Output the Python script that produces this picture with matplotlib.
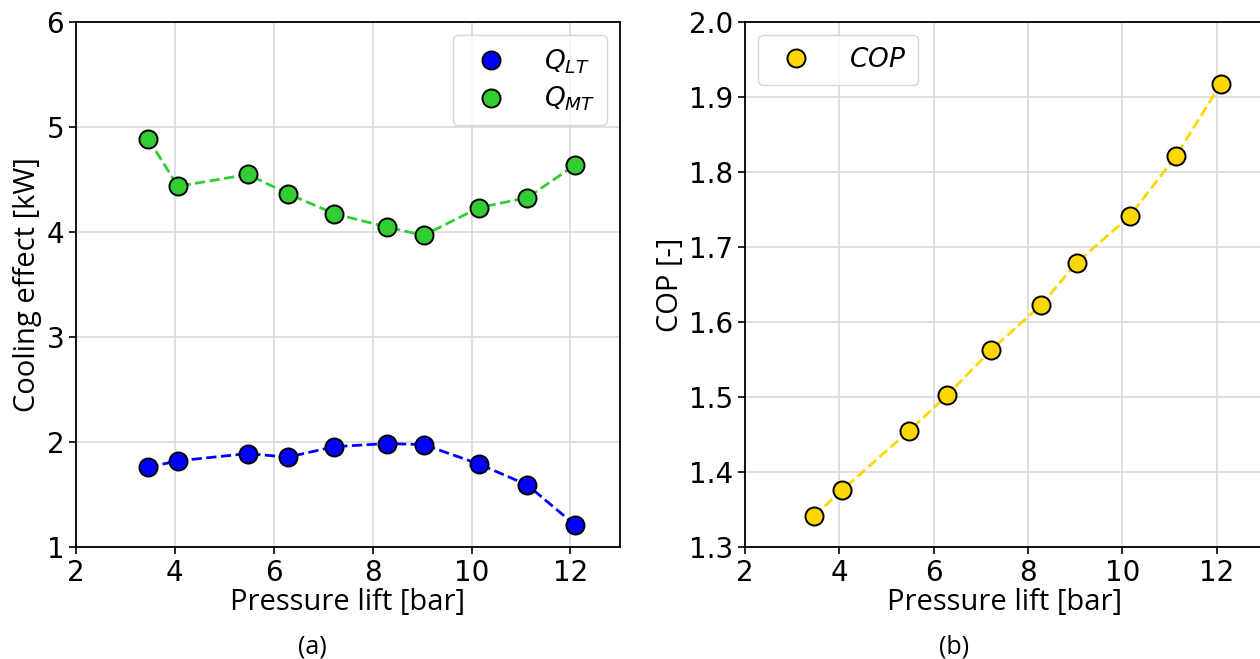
import numpy as np
import matplotlib
matplotlib.use("Agg")
import matplotlib.pyplot as plt

# pressure lift [bar]
lift = [3.46, 4.06, 5.48, 6.28, 7.22, 8.28, 9.03, 10.15, 11.13, 12.09]
# cooling effect [kW]
q_lt = [1.76, 1.82, 1.89, 1.855, 1.955, 1.985, 1.975, 1.79, 1.59, 1.21]
q_mt = [4.89, 4.435, 4.548, 4.366, 4.175, 4.048, 3.968, 4.232, 4.328, 4.637]
# COP [-]
cop = [1.341, 1.376, 1.455, 1.502, 1.563, 1.623, 1.679, 1.741, 1.821, 1.918]

label_font = "Open Sans"
mk = dict(marker="o", ls="none", ms=13, mec="black", mew=1.4)

fig = plt.figure(figsize=(12.6, 6.59), dpi=100)
ax1 = fig.add_axes([0.0603, 0.170, 0.4317, 0.7966])
ax2 = fig.add_axes([0.5913, 0.170, 0.4119, 0.7966])

# dashed lines first, markers on top (legend shows markers only)
ax1.plot(lift, q_lt, "--", color="blue", lw=2)
ax1.plot(lift, q_mt, "--", color="limegreen", lw=2)
ax1.plot(lift, q_lt, color="blue", label="$Q_{LT}$", **mk)
ax1.plot(lift, q_mt, color="limegreen", label="$Q_{MT}$", **mk)
ax1.set_xlim(2, 13)
ax1.set_ylim(1, 6)
ax1.set_xticks([2, 4, 6, 8, 10, 12])
ax1.set_yticks([1, 2, 3, 4, 5, 6])
ax1.set_xlabel("Pressure lift [bar]", fontsize=21, family=label_font, labelpad=1)
ax1.set_ylabel("Cooling effect [kW]", fontsize=21, family=label_font, labelpad=3)
ax1.legend(loc="upper right", fontsize=19, handletextpad=1.0, borderpad=0.45,
           labelspacing=0.35, handlelength=2.0)

ax2.plot(lift, cop, "--", color="gold", lw=2)
ax2.plot(lift, cop, color="gold", label="$COP$", **mk)
ax2.set_xlim(2, 13)
ax2.set_ylim(1.3, 2.0)
ax2.set_xticks([2, 4, 6, 8, 10, 12])
ax2.set_yticks(np.arange(1.3, 2.01, 0.1))
ax2.set_xlabel("Pressure lift [bar]", fontsize=21, family=label_font, labelpad=1)
ax2.set_ylabel("COP [-]", fontsize=21, family=label_font, labelpad=3)
ax2.legend(loc="upper left", fontsize=19, handletextpad=1.0, borderpad=0.45,
           handlelength=2.0)

for ax in (ax1, ax2):
    ax.grid(True, color="#d9d9d9", lw=1.2)
    ax.set_axisbelow(True)
    ax.tick_params(labelsize=20, width=1.2, length=5)
    for s in ax.spines.values():
        s.set_linewidth(1.3)

fig.text(0.248, 0.0, "(a)", fontsize=18, family=label_font, ha="center", va="bottom")
fig.text(0.757, 0.0, "(b)", fontsize=18, family=label_font, ha="center", va="bottom")

fig.savefig("out.png", dpi=100)
